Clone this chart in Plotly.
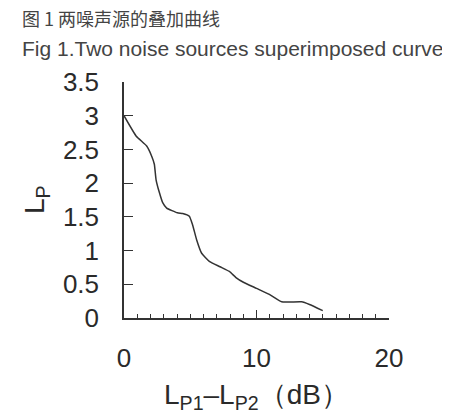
import plotly.graph_objects as go

diff_db = [0, 0.91, 1.71, 2.09, 2.29, 2.42, 2.67, 2.92, 3.22, 4.03, 4.43, 4.93, 5.18, 5.48,
           5.86, 6.44, 7.25, 7.95, 8.45, 9.01, 10.0, 10.97, 11.9, 13.4, 14.0, 15.0]
lp_add = [3.0, 2.70, 2.55, 2.40, 2.28, 2.05, 1.86, 1.71, 1.63, 1.56, 1.55, 1.51, 1.38, 1.16,
          0.96, 0.84, 0.76, 0.69, 0.60, 0.53, 0.44, 0.35, 0.24, 0.24, 0.20, 0.11]

x_ticks = [0, 10, 20]
y_ticks = [0, 0.5, 1, 1.5, 2, 2.5, 3, 3.5]
y_ticklabels = ["0", "0.5", "1", "1.5", "2", "2.5", "3", "3.5"]

font_main = "Liberation Sans, Arial, sans-serif"
ink = "#2a2a2a"

fig = go.Figure()
fig.add_trace(go.Scatter(x=diff_db, y=lp_add, mode="lines",
                         line=dict(color="#333333", width=1.5, shape="spline", smoothing=0.4),
                         hoverinfo="skip", showlegend=False))

fig.update_layout(
    width=450, height=415,
    margin=dict(l=116, r=69, t=74, b=105),
    paper_bgcolor="white", plot_bgcolor="white",
    font=dict(family=font_main, color=ink),
    xaxis=dict(range=[0, 20], tickvals=x_ticks, ticktext=[str(v) for v in x_ticks],
               ticks="inside", ticklen=8, tickwidth=1, tickcolor="#333",
               minor=dict(dtick=1, ticks="inside", ticklen=4, tickwidth=1, tickcolor="#333"),
               showline=True, linecolor="#333", linewidth=1.5, showgrid=False, zeroline=False,
               tickfont=dict(size=26, color=ink), ticklabelstandoff=16, fixedrange=True),
    yaxis=dict(range=[0, 3.5], tickvals=y_ticks, ticktext=y_ticklabels,
               ticks="inside", ticklen=9, tickwidth=1, tickcolor="#333",
               showline=True, linecolor="#333", linewidth=1.5, showgrid=False, zeroline=False,
               tickfont=dict(size=26, color=ink), ticklabelstandoff=18, fixedrange=True),
    annotations=[
        dict(text="图 1 两噪声源的叠加曲线", xref="paper", yref="paper", x=0, y=1,
             xshift=-104, yshift=64, xanchor="left", yanchor="middle", showarrow=False,
             font=dict(family="Noto Sans CJK SC", size=18, color="#444")),
        dict(text="Fig 1.Two noise sources superimposed curve", xref="paper", yref="paper",
             x=0, y=1, xshift=-104, yshift=34, xanchor="left", yanchor="middle", showarrow=False,
             font=dict(family=font_main, size=21, color="#444")),
        dict(text="L<sub>P</sub>", xref="paper", yref="paper", x=0, y=0.5, xshift=-88,
             textangle=-90, showarrow=False, xanchor="center", yanchor="middle",
             font=dict(family=font_main, size=28, color=ink)),
        dict(text="L<sub>P1</sub>–L<sub>P2</sub>（dB）", xref="paper", yref="paper",
             x=0.5, y=0, yshift=-78, xanchor="center", yanchor="middle", showarrow=False,
             font=dict(family=font_main, size=28, color=ink)),
    ],
)

fig.write_html("out.html")
